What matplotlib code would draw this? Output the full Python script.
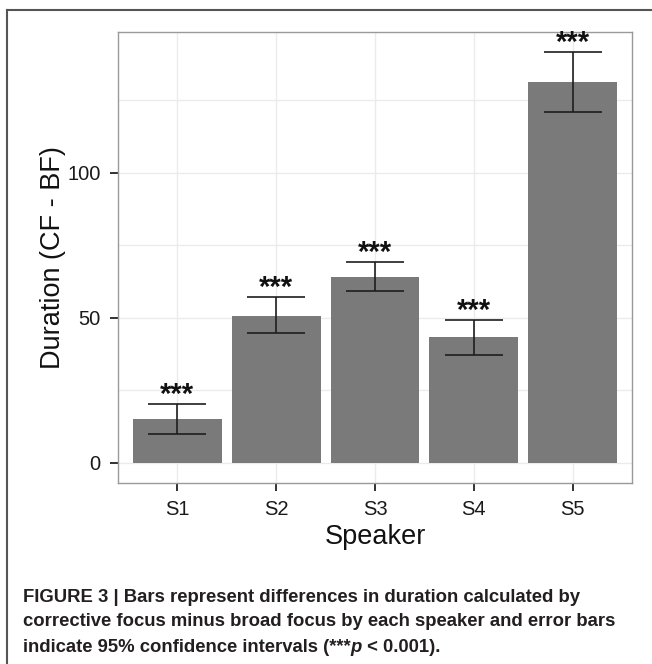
import matplotlib
matplotlib.use("Agg")
import matplotlib.pyplot as plt
from matplotlib.lines import Line2D

plt.rcParams["font.family"] = ["Liberation Sans", "DejaVu Sans"]

# ---------------------------------------------------------------------------
# Data
# ---------------------------------------------------------------------------
speakers = ["S1", "S2", "S3", "S4", "S5"]
duration = [15.0, 50.7, 64.1, 43.2, 131.2]   # CF - BF
ci_low = [9.8, 44.8, 59.2, 37.2, 121.0]
ci_high = [20.2, 57.1, 69.1, 49.2, 141.5]
signif = ["***", "***", "***", "***", "***"]

caption_lines = [
    "FIGURE 3 | Bars represent differences in duration calculated by",
    "corrective focus minus broad focus by each speaker and error bars",
]
caption_last = ["indicate 95% confidence intervals (***", "p", " < 0.001)."]

# ---------------------------------------------------------------------------
# Figure
# ---------------------------------------------------------------------------
W, H = 652, 664
fig = plt.figure(figsize=(W / 100, H / 100), dpi=100)
fig.patch.set_facecolor("white")

# panel placed in pixel units
px_l, px_r, px_t, px_b = 118, 632, 32, 483
ax = fig.add_axes([px_l / W, 1 - px_b / H, (px_r - px_l) / W, (px_b - px_t) / H])

x = list(range(1, len(speakers) + 1))
ax.bar(x, duration, width=0.9, color="#7a7a7a", zorder=2)
yerr = [[d - lo for d, lo in zip(duration, ci_low)],
        [hi - d for d, hi in zip(duration, ci_high)]]
ax.errorbar(x, duration, yerr=yerr, fmt="none", ecolor="#1e1e1e",
            elinewidth=1.2, capsize=21, capthick=1.2, zorder=3)
for xi, hi, s in zip(x, ci_high, signif):
    ax.text(xi, hi + 0.3, s, ha="center", va="baseline", fontsize=21,
            fontweight="bold", color="#111111", zorder=4)

ax.set_xlim(0.4, 5.6)
ax.set_ylim(-7, 148.5)
ax.set_xticks(x)
ax.set_xticklabels(speakers)
ax.set_yticks([0, 50, 100])
ax.set_yticks([25, 75, 125], minor=True)
ax.grid(True, which="both", color="#ebebeb", linewidth=1.0, zorder=0)
ax.set_axisbelow(True)
ax.tick_params(axis="both", which="major", length=6, width=1.3,
               color="#222222", labelsize=14.5, labelcolor="#1a1a1a", pad=6.5)
ax.tick_params(axis="y", which="minor", length=0)
for sp in ax.spines.values():
    sp.set_color("#9a9a9a")
    sp.set_linewidth(1.0)

ax.set_xlabel("Speaker", fontsize=19.5, color="#111111", labelpad=3)
ax.set_ylabel("Duration (CF - BF)", fontsize=19.5, color="#111111", labelpad=1)

# outer frame (left and top edges)
fig.add_artist(Line2D([7 / W, 7 / W], [0, 1 - 10 / H], transform=fig.transFigure,
                      color="#555555", linewidth=1.5))
fig.add_artist(Line2D([7 / W, 1], [1 - 10 / H, 1 - 10 / H], transform=fig.transFigure,
                      color="#555555", linewidth=1.5))

# caption
cap_size = 13.3
cap_kw = dict(fontsize=cap_size, fontweight="bold", color="#231f20", va="center")
for i, line in enumerate(caption_lines):
    fig.text(23 / W, 1 - (597 + 25 * i) / H, line, **cap_kw)
t0 = fig.text(23 / W, 1 - 647 / H, caption_last[0], **cap_kw)
t1 = ax.annotate(caption_last[1], xy=(1, 0.5), xycoords=t0, va="center",
                 fontsize=cap_size, fontweight="bold", fontstyle="italic",
                 color="#231f20", annotation_clip=False)
ax.annotate(caption_last[2], xy=(1, 0.5), xycoords=t1, va="center",
            fontsize=cap_size, fontweight="bold", color="#231f20",
            annotation_clip=False)

fig.savefig("out.png", dpi=100)
